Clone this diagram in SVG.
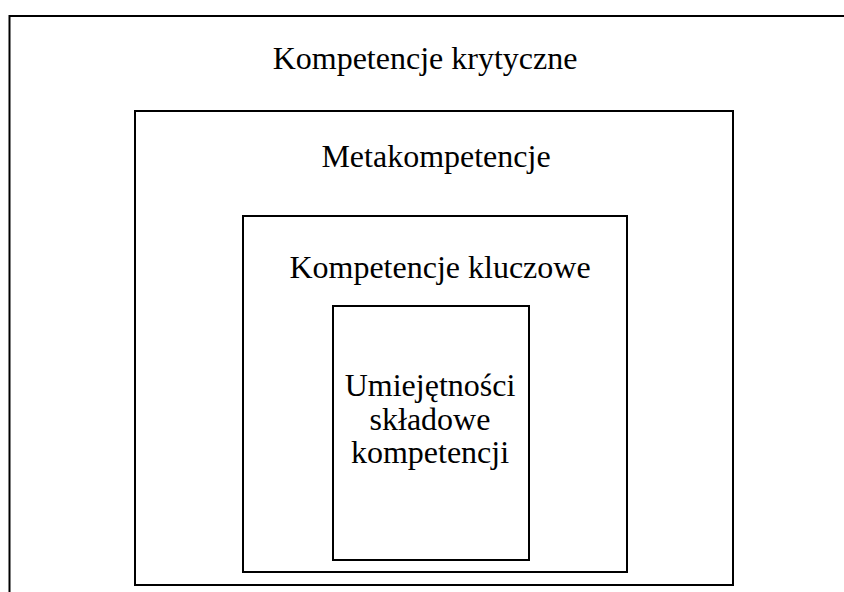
<svg xmlns="http://www.w3.org/2000/svg" width="844" height="592" viewBox="0 0 844 592">
<style>
.box{fill:none;stroke:#000;stroke-width:2}
.t{font-family:"Liberation Serif","Times New Roman",serif;font-size:32px;fill:#000;text-anchor:middle}
</style>
<rect width="844" height="592" fill="#fff"/>
<g id="krytyczne">
<path class="box" d="M9.5,592 V16 H844"/>
<text class="t" x="425" y="69">Kompetencje krytyczne</text>
</g>
<g id="metakompetencje">
<rect class="box" x="135" y="111" width="598" height="474"/>
<text class="t" x="436" y="167">Metakompetencje</text>
</g>
<g id="kluczowe">
<rect class="box" x="243" y="216" width="384" height="356"/>
<text class="t" x="440" y="278">Kompetencje kluczowe</text>
</g>
<g id="umiejetnosci">
<rect class="box" x="333" y="306" width="196" height="254"/>
<text class="t" x="430" y="396">Umiejętności</text>
<text class="t" x="430" y="430">składowe</text>
<text class="t" x="430" y="463">kompetencji</text>
</g>
<g id="connectors"/>
</svg>
